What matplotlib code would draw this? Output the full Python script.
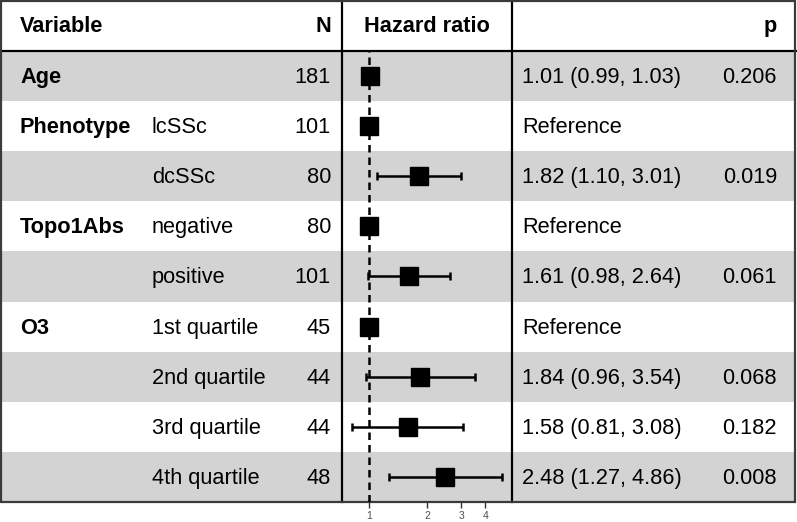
import numpy as np
import matplotlib
matplotlib.use("Agg")
import matplotlib.pyplot as plt
from matplotlib.patches import Rectangle

plt.rcParams['font.family'] = ['Liberation Sans', 'DejaVu Sans']

# data
variables = ["Age", "Phenotype", "", "Topo1Abs", "", "O3", "", "", ""]
levels = ["", "lcSSc", "dcSSc", "negative", "positive",
          "1st quartile", "2nd quartile", "3rd quartile", "4th quartile"]
n_obs = [181, 101, 80, 80, 101, 45, 44, 44, 48]
hr = [1.01, 1.0, 1.82, 1.0, 1.61, 1.0, 1.84, 1.58, 2.48]
ci_low = [0.99, np.nan, 1.10, np.nan, 0.98, np.nan, 0.96, 0.81, 1.27]
ci_high = [1.03, np.nan, 3.01, np.nan, 2.64, np.nan, 3.54, 3.08, 4.86]
p_vals = ["0.206", "", "0.019", "", "0.061", "", "0.068", "0.182", "0.008"]
x_ticks = [1, 2, 3, 4]

fs = 15.7
W, H = 797, 522
top, row_h = 51, 50.1
bottom = top + row_h * len(hr)
x_div1, x_div2 = 342, 512

fig = plt.figure(figsize=(W / 100, H / 100), dpi=100)
ax = fig.add_axes([0, 0, 1, 1])
ax.set_xlim(0, W)
ax.set_ylim(H, 0)
ax.axis('off')

# shaded rows
for i in range(len(hr)):
    if i % 2 == 0:
        ax.add_patch(Rectangle((2, top + i * row_h), W - 5, row_h,
                               facecolor='#d3d3d3', edgecolor='none', zorder=0))

# header
yh = top / 2 + 1
ax.text(20, yh, "Variable", fontsize=fs, fontweight='bold', va='center', ha='left')
ax.text(331, yh, "N", fontsize=fs, fontweight='bold', va='center', ha='right')
ax.text((x_div1 + x_div2) / 2, yh, "Hazard ratio", fontsize=fs, fontweight='bold',
        va='center', ha='center')
ax.text(777, yh, "p", fontsize=fs, fontweight='bold', va='center', ha='right')

# rows text
for i in range(len(hr)):
    y = top + (i + 0.5) * row_h + 1.5
    if variables[i]:
        ax.text(20, y, variables[i], fontsize=fs, fontweight='bold', va='center', ha='left')
    if levels[i]:
        ax.text(152, y, levels[i], fontsize=fs, va='center', ha='left')
    ax.text(331, y, str(n_obs[i]), fontsize=fs, va='center', ha='right')
    if np.isnan(ci_low[i]):
        est = "Reference"
    else:
        est = "%.2f (%.2f, %.2f)" % (hr[i], ci_low[i], ci_high[i])
    ax.text(522, y, est, fontsize=fs, va='center', ha='left')
    if p_vals[i]:
        ax.text(777, y, p_vals[i], fontsize=fs, va='center', ha='right')

# grid lines
ax.plot([0, W], [top, top], color='black', lw=1.6, zorder=3)
ax.plot([x_div1, x_div1], [0, bottom], color='black', lw=1.6, zorder=3)
ax.plot([x_div2, x_div2], [0, bottom], color='black', lw=1.6, zorder=3)
ax.add_patch(Rectangle((1, 1), W - 3, bottom - 1, facecolor='none',
                       edgecolor='#3a3a3a', lw=1.6, zorder=3))

# forest panel
fa = fig.add_axes([x_div1 / W, (H - bottom) / H, (x_div2 - x_div1) / W, (bottom - top) / H])
fa.patch.set_alpha(0)
fa.set_xscale('log')
fa.set_xlim(0.721, 5.51)
fa.set_ylim(len(hr) - 0.5, -0.5)
for s in fa.spines.values():
    s.set_visible(False)
fa.axvline(1, color='black', lw=1.8, linestyle=(0, (3, 2)), zorder=1)
rows = np.arange(len(hr))
hr_a = np.array(hr)
lo_a = np.array(ci_low)
hi_a = np.array(ci_high)
has_ci = ~np.isnan(lo_a)
fa.errorbar(hr_a[has_ci], rows[has_ci],
            xerr=[hr_a[has_ci] - lo_a[has_ci], hi_a[has_ci] - hr_a[has_ci]],
            fmt='none', ecolor='black', elinewidth=1.8, capsize=3, capthick=1.8, zorder=2)
fa.plot(hr_a, rows, 's', color='black', markersize=13, zorder=3)
fa.set_yticks([])
fa.set_xticks(x_ticks)
fa.set_xticklabels([str(t) for t in x_ticks])
fa.minorticks_off()
fa.tick_params(axis='x', length=4, width=1, color='#333333', labelsize=7.5,
               labelcolor='#4d4d4d', pad=2.5)

fig.savefig("out.png", dpi=100)
